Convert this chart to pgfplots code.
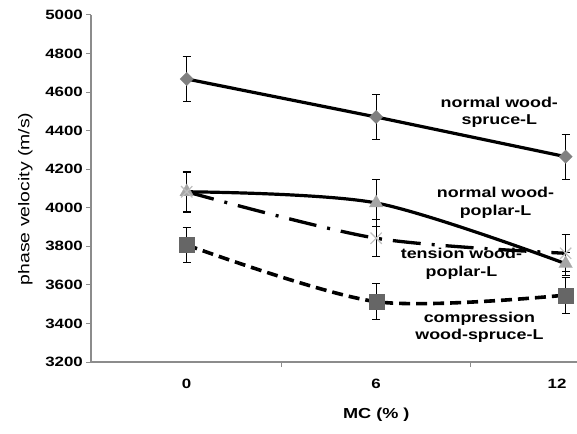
\documentclass[border=0pt]{standalone}
\usepackage{pgfplots}
\pgfplotsset{compat=1.18}
\usepackage{fontspec}
\setmainfont{Liberation Sans}[FakeStretch=1.25]
\definecolor{axisgray}{HTML}{8C8C8C}
\definecolor{dmd}{HTML}{808080}
\definecolor{sqr}{HTML}{666666}
\definecolor{tri}{HTML}{A6A6A6}
\definecolor{xmk}{HTML}{BFBFBF}
\begin{document}
\begin{tikzpicture}
\path[use as bounding box] (0,0) rectangle (577pt,433pt);
\begin{axis}[
  at={(91pt,71pt)}, anchor=south west,
  scale only axis, width=486pt, height=347pt,
  xmin=-3.03, xmax=12.36, ymin=3200, ymax=5000,
  axis x line=bottom, axis y line=left,
  axis line style={-, draw=axisgray, line width=1.2pt},
  ytick={3200,3400,...,5000},
  xtick={3,9}, xticklabels={},
  extra x ticks={0,6,12},
  extra x tick labels={0,6,{\makebox[36pt][l]{12}}},
  extra x tick style={major tick length=0pt},
  tick align=outside, major tick length=5pt,
  tick style={draw=axisgray, line width=1pt},
  /pgf/number format/assume math mode=true,
  /pgf/number format/1000 sep={},
  tick label style={font=\fontsize{13.5}{15}\selectfont\bfseries},
  yticklabel style={inner sep=0pt, xshift=-3pt},
  xticklabel style={inner sep=0pt, yshift=-17pt},
  xlabel={MC (\% )},
  xlabel style={font=\fontsize{14.5}{16}\selectfont\bfseries, at={(axis description cs:0.587,0)}, anchor=center, yshift=-53pt},
  ylabel={phase velocity (m/s)},
  ylabel style={font=\fontsize{15.5}{17}\selectfont, at={(axis description cs:-0.135,0.47)}, anchor=center},
  clip=false,
  error bars/error bar style={black, line width=1pt, solid},
  error bars/error mark options={rotate=90, mark size=4pt, black, line width=1pt, solid},
]
% normal wood spruce
\addplot[black, line width=3.2pt, mark=square*, mark size=4.8pt,
  mark options={rotate=45, fill=dmd, draw=dmd, line width=0.1pt, solid},
  error bars/.cd, y dir=both, y explicit]
  coordinates {(0,4668) +- (0,117) (6,4471) +- (0,117) (12,4265) +- (0,117)};
% normal wood poplar
\addplot[black, line width=3.2pt, smooth, mark=triangle*, mark size=8pt,
  mark options={fill=tri, draw=tri, line width=0.1pt, solid},
  error bars/.cd, y dir=both, y explicit]
  coordinates {(0,4083) +- (0,105) (6,4025) +- (0,122) (12,3710) +- (0,60)};
% tension wood poplar
\addplot[black, line width=3.3pt, smooth, dash pattern=on 28pt off 11pt on 3pt off 11pt, mark=x, mark size=8pt,
  mark options={draw=xmk, line width=1.2pt, solid},
  error bars/.cd, y dir=both, y explicit]
  coordinates {(0,4083) +- (0,100) (6,3842) +- (0,97) (12,3764) +- (0,97)};
% compression wood spruce
\addplot[black, line width=3.6pt, smooth, dash pattern=on 11pt off 6pt, mark=square*, mark size=7.5pt,
  mark options={fill=sqr, draw=sqr, line width=0.1pt, solid},
  error bars/.cd, y dir=both, y explicit]
  coordinates {(0,3807) +- (0,93) (6,3513) +- (0,93) (12,3547) +- (0,93)};
\node[font=\fontsize{14.3}{17.5}\selectfont\bfseries, align=center] at (axis cs:9.9,4496) {normal wood-\\spruce-L};
\node[font=\fontsize{14.3}{17.5}\selectfont\bfseries, align=center] at (axis cs:9.78,4025) {normal wood-\\poplar-L};
\node[font=\fontsize{14.3}{17.5}\selectfont\bfseries, align=center] at (axis cs:8.7,3709) {tension wood-\\poplar-L};
\node[font=\fontsize{14.3}{17.5}\selectfont\bfseries, align=center] at (axis cs:9.27,3379) {compression\\wood-spruce-L};
\end{axis}
\end{tikzpicture}
\end{document}
